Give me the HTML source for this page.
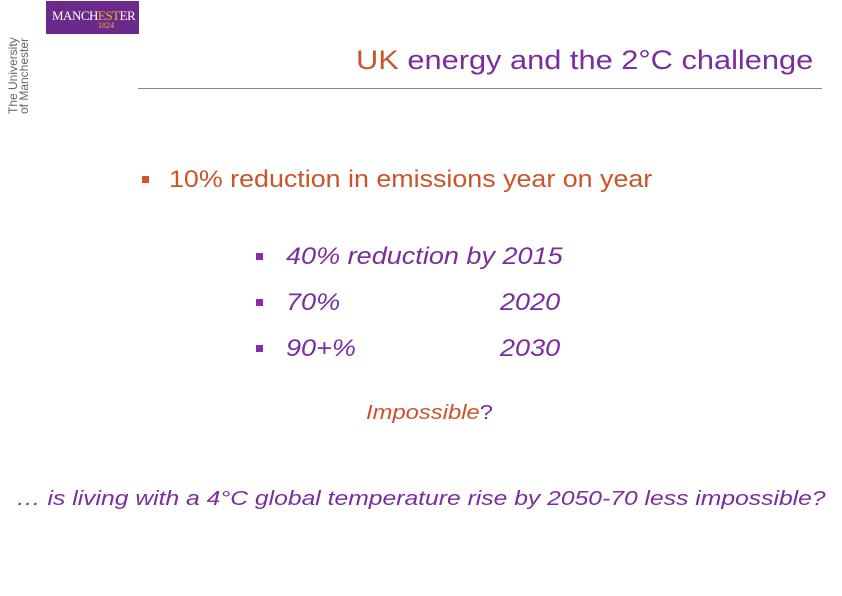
<!DOCTYPE html>
<html><head><meta charset="utf-8"><style>
body{margin:0;width:842px;height:596px;background:#fff;position:relative;overflow:hidden;font-family:"Liberation Sans",sans-serif}
.a{position:absolute;white-space:nowrap;line-height:1;transform-origin:0 0}
.p{color:#7b2c9e}.o{color:#c9552b}
.i{font-style:italic}
.b{position:absolute;width:7px;height:7px}
</style></head><body>
<div style="position:absolute;left:46px;top:1px;width:93px;height:33px;background:#6b2a8a">
<div class="a" style="left:6px;top:8px;font-family:'Liberation Serif',serif;font-size:13px;color:#fff;letter-spacing:-0.5px">MANCH<span style="color:#f0b030">EST</span>ER</div>
<div class="a" style="left:52px;top:21px;font-family:'Liberation Serif',serif;font-size:8px;color:#f0b030">1824</div>
</div>
<div class="a" style="left:8px;top:114px;transform:rotate(-90deg);font-size:12px;color:#666;line-height:11px">The University<br>of Manchester</div>
<div class="a" style="left:356px;top:47px;font-size:27px;transform:scaleX(1.14)"><span class="o">UK</span> <span class="p">energy and the 2°C challenge</span></div>
<div style="position:absolute;left:138px;top:88px;width:684px;height:1px;background:#888"></div>
<div class="b" style="left:142px;top:176px;background:#d9502a"></div>
<div class="a o" style="left:169px;top:168px;font-size:24px;transform:scaleX(1.118)">10% reduction in emissions year on year</div>
<div class="b" style="left:256px;top:253px;background:#8a2ab0"></div>
<div class="a p i" style="left:286px;top:245px;font-size:24px;transform:scaleX(1.127)">40% reduction by 2015</div>
<div class="b" style="left:256px;top:299px;background:#8a2ab0"></div>
<div class="a p i" style="left:286px;top:291px;font-size:24px;transform:scaleX(1.127)">70%</div>
<div class="a p i" style="left:500px;top:291px;font-size:24px;transform:scaleX(1.127)">2020</div>
<div class="b" style="left:256px;top:345px;background:#8a2ab0"></div>
<div class="a p i" style="left:286px;top:337px;font-size:24px;transform:scaleX(1.127)">90+%</div>
<div class="a p i" style="left:500px;top:337px;font-size:24px;transform:scaleX(1.127)">2030</div>
<div class="a" style="left:366px;top:403px;font-size:20px;transform:scaleX(1.19)"><span class="i o">Impossible</span><span class="p">?</span></div>
<div class="a p i" style="left:16px;top:489px;font-size:20px;transform:scaleX(1.234)">… is living with a 4°C global temperature rise by 2050-70 less impossible?</div>
</body></html>
